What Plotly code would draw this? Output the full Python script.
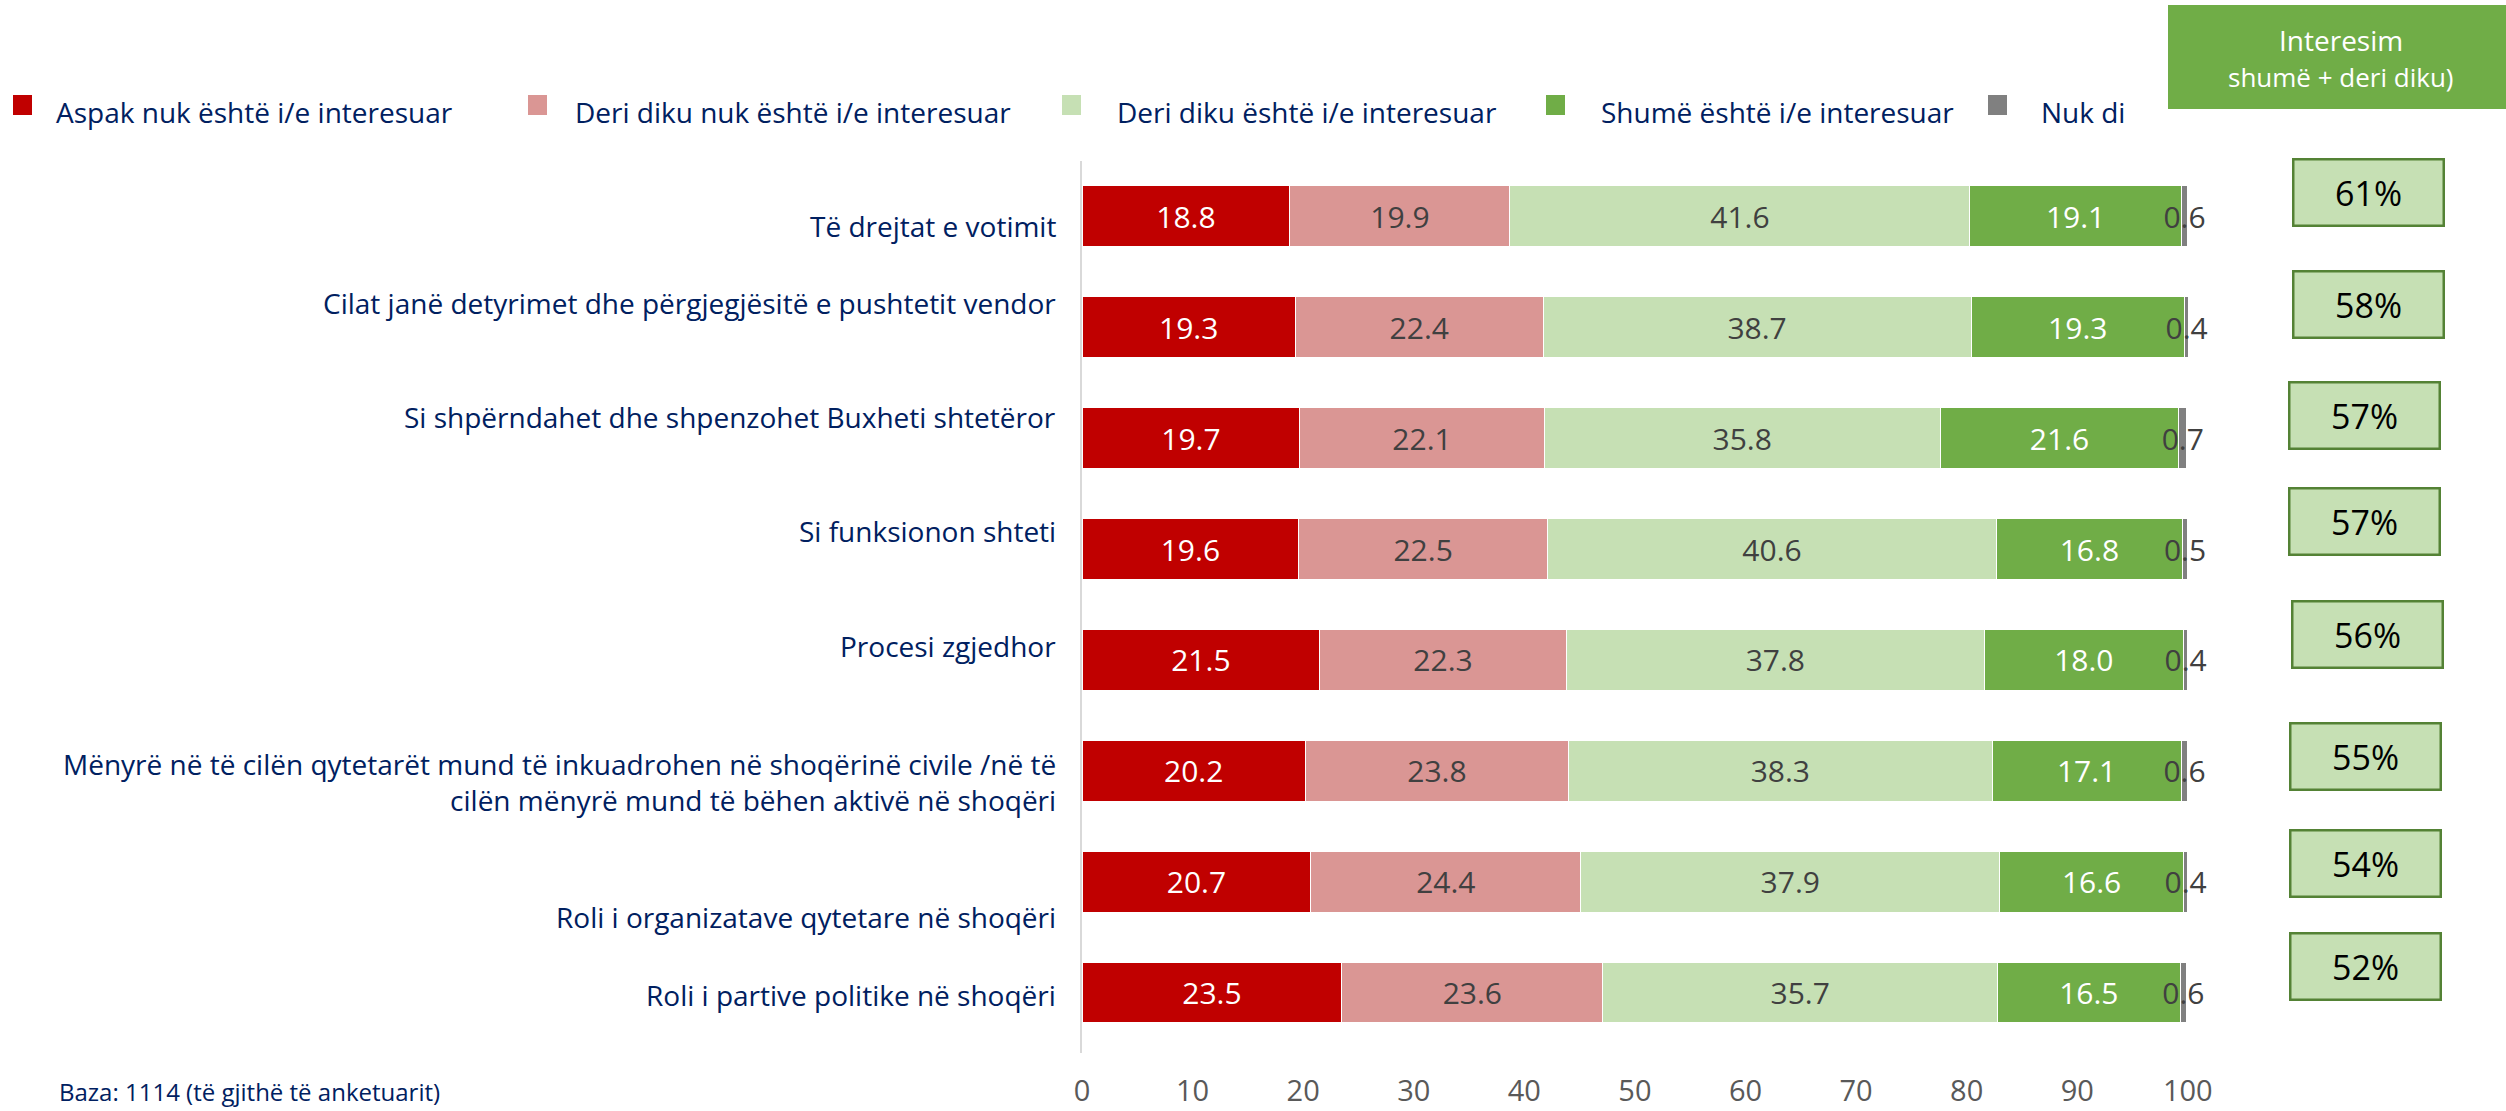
import plotly.graph_objects as go

# ---------------- data ----------------
categories = [
    "Të drejtat e votimit",
    "Cilat janë detyrimet dhe përgjegjësitë e pushtetit vendor",
    "Si shpërndahet dhe shpenzohet Buxheti shtetëror",
    "Si funksionon shteti",
    "Procesi zgjedhor",
    "Mënyrë në të cilën qytetarët mund të inkuadrohen në shoqërinë civile /në të<br>cilën mënyrë mund të bëhen aktivë në shoqëri",
    "Roli i organizatave qytetare në shoqëri",
    "Roli i partive politike në shoqëri",
]
series_names = [
    "Aspak nuk është i/e interesuar",
    "Deri diku nuk është i/e interesuar",
    "Deri diku është i/e interesuar",
    "Shumë është i/e interesuar",
    "Nuk di",
]
aspak = [18.8, 19.3, 19.7, 19.6, 21.5, 20.2, 20.7, 23.5]
deri_diku_nuk = [19.9, 22.4, 22.1, 22.5, 22.3, 23.8, 24.4, 23.6]
deri_diku = [41.6, 38.7, 35.8, 40.6, 37.8, 38.3, 37.9, 35.7]
shume = [19.1, 19.3, 21.6, 16.8, 18.0, 17.1, 16.6, 16.5]
nuk_di = [0.6, 0.4, 0.7, 0.5, 0.4, 0.6, 0.4, 0.6]
interest_pct = [61, 58, 57, 57, 56, 55, 54, 52]
x_ticks = [0, 10, 20, 30, 40, 50, 60, 70, 80, 90, 100]
header_lines = ["Interesim", "shumë + deri diku)"]
base_note = "Baza: 1114 (të gjithë të anketuarit)"

# ---------------- style ----------------
FONT = "Open Sans"
NAVY = "#002060"
colors = ["#C00000", "#DA9694", "#C6E0B4", "#70AD47", "#808080"]
text_colors = ["white", "#404040", "#404040", "white", "#404040"]

W_FIG, H_FIG = 2506, 1111
L, R, T, B = 1082, 316, 161, 58
PW = W_FIG - L - R
PH = H_FIG - T - B
X_MAX = 100.2


def px_x(px):
    return (px - L) / PW


def px_y(py):
    return (H_FIG - B - py) / PH


values = [aspak, deri_diku_nuk, deri_diku, shume, nuk_di]

fig = go.Figure()
for name, vals, col, tcol in zip(series_names, values, colors, text_colors):
    fig.add_trace(go.Bar(
        y=categories, x=vals, orientation="h", name=name,
        marker=dict(color=col, line=dict(color="white", width=1)),
        text=[f"{v:.1f}" for v in vals], texttemplate="%{text}",
        textposition="inside", insidetextanchor="middle", textangle=0,
        constraintext="none", cliponaxis=False,
        textfont=dict(family=FONT, size=30, color=tcol),
        showlegend=False,
    ))

# category labels (right aligned, with individual vertical offsets)
label_yshift = [-10, 24, 21, 18, 14, -11, -35, -2]
for cat, ys in zip(categories, label_yshift):
    fig.add_annotation(
        x=0, xref="paper", y=cat, yref="y", xanchor="right", yanchor="middle",
        xshift=-24, yshift=ys, text=cat, showarrow=False, align="right",
        font=dict(family=FONT, size=28, color=NAVY),
    )

# interest boxes on the right
box_yshift = [24, 23, 23, 28, 25, 14, 18, 26]
box_xpx = [2368, 2368, 2364, 2364, 2367, 2365, 2365, 2365]
for cat, pct, ys, bx in zip(categories, interest_pct, box_yshift, box_xpx):
    fig.add_annotation(
        x=px_x(bx), xref="paper", y=cat, yref="y", xanchor="center", yanchor="middle",
        yshift=ys, text=f"{pct}%", showarrow=False,
        width=148, height=64, borderpad=0,
        bgcolor="#C6E0B4", bordercolor="#548235", borderwidth=2.5,
        font=dict(family=FONT, size=34, color="black"),
    )

# header box
fig.add_shape(type="rect", xref="paper", yref="paper",
              x0=px_x(2168), x1=px_x(2520), y0=px_y(109), y1=px_y(5),
              fillcolor="#70AD47", line=dict(width=0), layer="above")
fig.add_annotation(x=px_x(2341), y=px_y(40), xref="paper", yref="paper",
                   text=header_lines[0], showarrow=False, xanchor="center", yanchor="middle",
                   font=dict(family=FONT, size=28, color="white"))
fig.add_annotation(x=px_x(2341), y=px_y(77), xref="paper", yref="paper",
                   text=header_lines[1], showarrow=False, xanchor="center", yanchor="middle",
                   font=dict(family=FONT, size=26, color="white"))

# custom legend
leg_sq_x = [13, 528, 1062, 1546, 1988]
leg_tx_x = [54, 573, 1115, 1599, 2039]
for name, col, sx, tx in zip(series_names, colors, leg_sq_x, leg_tx_x):
    fig.add_shape(type="rect", xref="paper", yref="paper",
                  x0=px_x(sx), x1=px_x(sx + 19), y0=px_y(115), y1=px_y(95),
                  fillcolor=col, line=dict(width=0))
    fig.add_annotation(x=px_x(tx), y=px_y(112), xref="paper", yref="paper",
                       text=name, showarrow=False, xanchor="left", yanchor="middle",
                       font=dict(family=FONT, size=28, color=NAVY))

# base note
fig.add_annotation(x=px_x(57), y=px_y(1091), xref="paper", yref="paper",
                   text=base_note, showarrow=False, xanchor="left", yanchor="middle",
                   font=dict(family=FONT, size=24, color=NAVY))

fig.update_layout(
    width=W_FIG, height=H_FIG,
    margin=dict(l=L, r=R, t=T, b=B, pad=0, autoexpand=False),
    barmode="stack", bargap=0.45,
    paper_bgcolor="white", plot_bgcolor="white",
    font=dict(family=FONT),
    xaxis=dict(range=[0, X_MAX], tickvals=x_ticks, showgrid=False, zeroline=False,
               showline=False, ticks="", ticklabelstandoff=18, automargin=False,
               tickfont=dict(family=FONT, size=29, color="#595959")),
    yaxis=dict(autorange="reversed", showticklabels=False, showgrid=False,
               zeroline=False, showline=True, linecolor="#D9D9D9", linewidth=2,
               ticks="", automargin=False),
)

fig.write_html(
    "out.html",
    config={"displayModeBar": False},
    post_script="document.body.style.margin='0';document.body.style.overflow='hidden';",
)
